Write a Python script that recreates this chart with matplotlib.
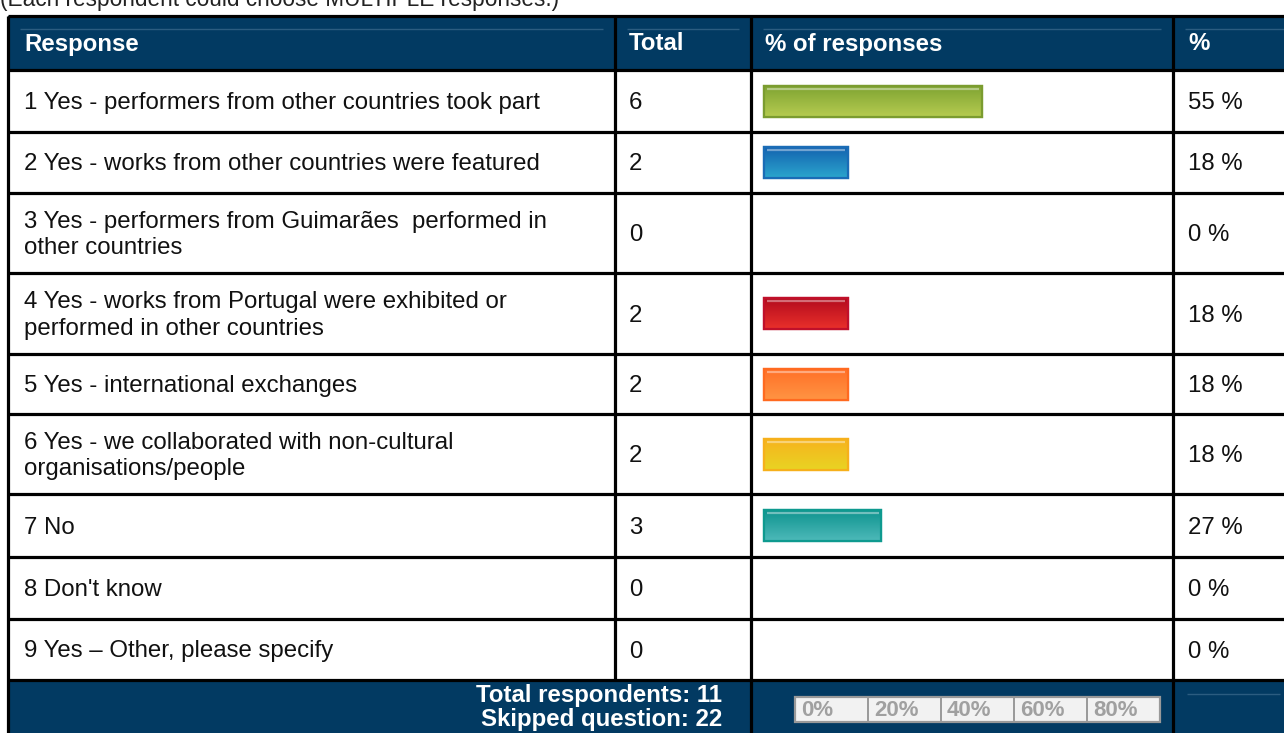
import matplotlib
matplotlib.use('Agg')
import matplotlib.pyplot as plt
import numpy as np
from matplotlib.patches import Rectangle
from matplotlib.colors import LinearSegmentedColormap

plt.rcParams['font.family'] = ['Liberation Sans', 'DejaVu Sans']

note = "(Each respondent could choose MULTIPLE responses.)"
headers = ["Response", "Total", "% of responses", "%"]
responses = ["1 Yes - performers from other countries took part",
             "2 Yes - works from other countries were featured",
             "3 Yes - performers from Guimarães  performed in\nother countries",
             "4 Yes - works from Portugal were exhibited or\nperformed in other countries",
             "5 Yes - international exchanges",
             "6 Yes - we collaborated with non-cultural\norganisations/people",
             "7 No",
             "8 Don't know",
             "9 Yes \u2013 Other, please specify"]
totals = [6, 2, 0, 2, 2, 2, 3, 0, 0]
percents = [55, 18, 0, 18, 18, 18, 27, 0, 0]
# (top, bottom, edge) colours of the glossy bars
bar_colors = [("#7ea332", "#b4ca4f", "#7b9c2f"),
              ("#1463b0", "#2ba5cd", "#1a6cb6"),
              None,
              ("#b30b1d", "#e9302b", "#c0102a"),
              ("#ff6f27", "#ff9342", "#ff6a20"),
              ("#f7b21d", "#e9d323", "#f6b01b"),
              ("#0f948f", "#4db9b9", "#0e9a8f"),
              None,
              None]
scale_labels = ["0%", "20%", "40%", "60%", "80%"]
total_respondents = 11
skipped_question = 22

W, H = 1284, 733
header_bg = "#023a62"
gloss = "#2b5c80"
col_x = [8, 615, 751, 1173, 1300]
row_y = [16, 70, 132, 193, 273, 354, 414, 494, 557, 619, 680, 745]
lw = 2.3
fs = 17.3

fig = plt.figure(figsize=(W / 100, H / 100), dpi=100)
ax = fig.add_axes([0, 0, 1, 1])
ax.set_xlim(0, W)
ax.set_ylim(H, 0)
ax.axis('off')

# the note is cut by the top edge, as in the original screenshot
ax.text(0, 6, note, fontsize=16.3, color="#222222", va='baseline', ha='left')

# header and footer backgrounds
ax.add_patch(Rectangle((col_x[0], row_y[0]), col_x[-1] - col_x[0], row_y[1] - row_y[0],
                       facecolor=header_bg, edgecolor='none', zorder=1))
ax.add_patch(Rectangle((col_x[0], row_y[-2]), col_x[-1] - col_x[0], row_y[-1] - row_y[-2],
                       facecolor=header_bg, edgecolor='none', zorder=1))

# gloss lines in header cells
for i in range(4):
  ax.hlines(row_y[0] + 13, col_x[i] + 12, col_x[i + 1] - 12, color=gloss, lw=1, zorder=2)
ax.hlines(row_y[-2] + 14, col_x[3] + 14, W - 4, color=gloss, lw=1, zorder=2)

# header texts
text_x = [24, 629, 765, 1188]
for h, x in zip(headers, text_x):
  ax.text(x, (row_y[0] + row_y[1]) / 2 + 1, h, color='white', fontsize=fs, fontweight='bold',
          va='center', ha='left', zorder=3)

# body rows
for i, (r, t, p) in enumerate(zip(responses, totals, percents)):
  yc = (row_y[i + 1] + row_y[i + 2]) / 2 + 2
  ax.text(text_x[0], yc, r, fontsize=fs, color='#111111', va='center', ha='left', linespacing=1.25)
  ax.text(text_x[1], yc, str(t), fontsize=fs, color='#111111', va='center', ha='left')
  ax.text(text_x[3], yc, "%d %%" % p, fontsize=fs, color='#111111', va='center', ha='left')

# grid lines
ax.hlines(row_y[:-1], col_x[0], col_x[-1], color='black', lw=lw, zorder=4)
ax.vlines(col_x[0], row_y[0], row_y[-1], color='black', lw=lw, zorder=4)
ax.vlines(col_x[1], row_y[0], row_y[-2], color='black', lw=lw, zorder=4)
ax.vlines(col_x[2:4], row_y[0], row_y[-1], color='black', lw=lw, zorder=4)

# footer text
ax.text(722, row_y[-2] + 4, "Total respondents: %d\nSkipped question: %d" % (total_respondents, skipped_question),
        color='white', fontsize=fs, fontweight='bold', ha='right', va='top', multialignment='right',
        linespacing=1.05, zorder=3)

# bars, in units of respondents
px_per_count = 33.5
bar_left = -0.5
bax = fig.add_axes([0, 0, 1, 1])
bax.axis('off')
x0 = bar_left - 764 / px_per_count
grad = np.linspace(0, 1, 64).reshape(-1, 1)
for i, (t, c) in enumerate(zip(totals, bar_colors)):
  if t == 0 or c is None:
    continue
  yc = (row_y[i + 1] + row_y[i + 2]) / 2
  b = bax.barh(yc, t - bar_left, left=bar_left, height=31, facecolor=c[1], edgecolor=c[2], lw=1.6, zorder=2)[0]
  cm = LinearSegmentedColormap.from_list('g%d' % i, [c[0], c[1]])
  im = bax.imshow(grad, extent=[bar_left, t, yc + 15.5, yc - 15.5], aspect='auto', cmap=cm, zorder=2.5)
  im.set_clip_path(b)
  bax.hlines(yc - 12.5, bar_left + 0.08, t - 0.08, color='white', alpha=0.4, lw=1.6, zorder=3)
  bax.barh(yc, t - bar_left, left=bar_left, height=31, facecolor='none', edgecolor=c[2], lw=1.6, zorder=4)
bax.set_xlim(x0, x0 + W / px_per_count)
bax.set_ylim(H, 0)

# percent scale in footer
sx0, sx1, sy0, sy1 = 795, 1160, 697, 722
ax.add_patch(Rectangle((sx0, sy0), sx1 - sx0, sy1 - sy0, facecolor='#f2f2f2', edgecolor='#999999',
                       lw=1.6, zorder=5))
cw = (sx1 - sx0) / len(scale_labels)
for k, s in enumerate(scale_labels):
  if k > 0:
    ax.vlines(sx0 + k * cw, sy0, sy1, color='#999999', lw=1.4, zorder=6)
  ax.text(sx0 + k * cw + 6, (sy0 + sy1) / 2 + 1, s, color='#a0a0a0', fontsize=16, fontweight='bold',
          va='center', ha='left', zorder=6)

fig.savefig('out.png', dpi=100)
